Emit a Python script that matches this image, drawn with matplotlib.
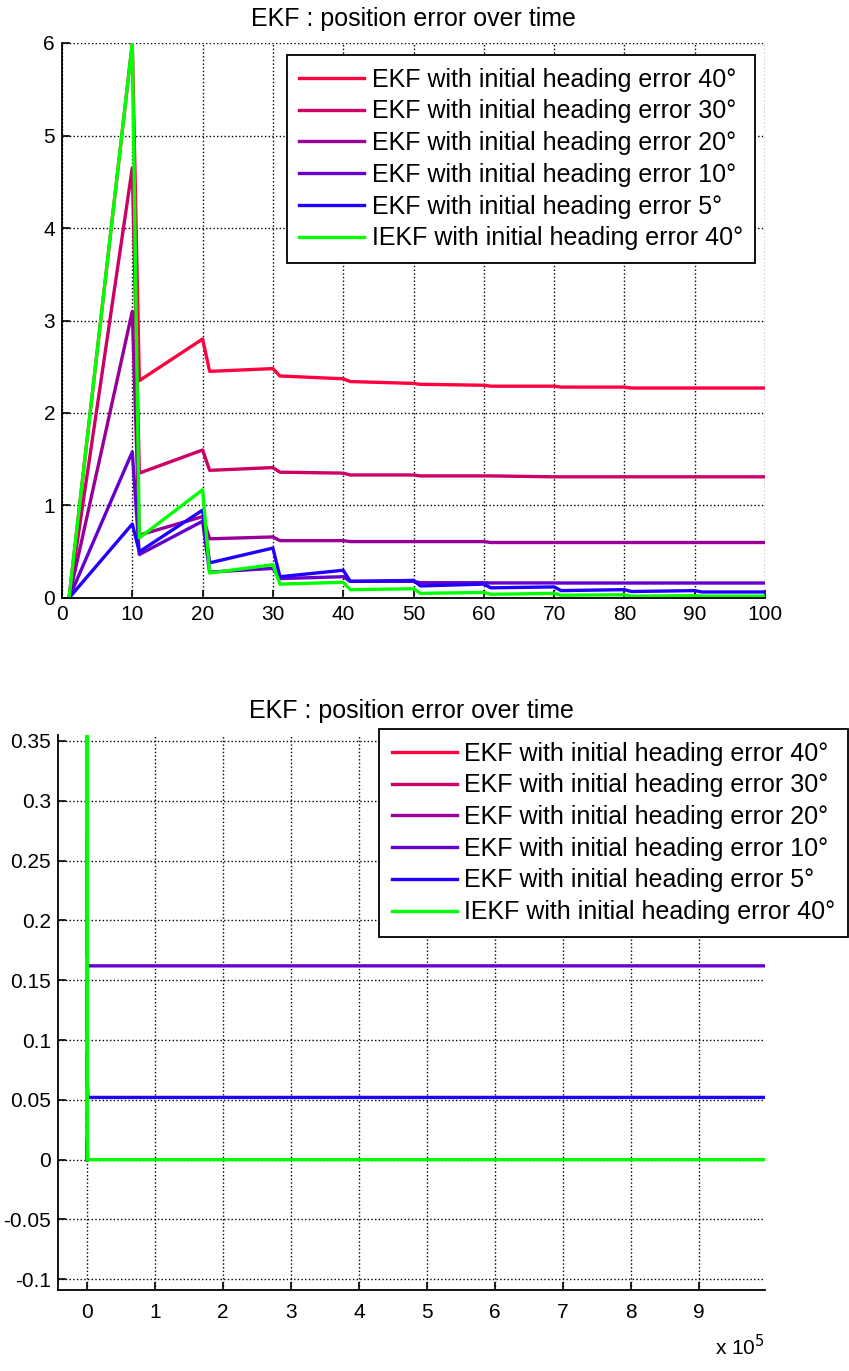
import numpy as np
import matplotlib
matplotlib.use('Agg')
import matplotlib.pyplot as plt
from matplotlib.ticker import FuncFormatter

plt.rcParams['font.family'] = ['Liberation Sans', 'DejaVu Sans']

# time axis of the short run (s)
t = [1, 10, 11, 20, 21, 30, 31, 40, 41, 50, 51, 60, 61, 70, 71, 80, 81, 90, 91, 100]

err40 = [0, 6.0, 2.35, 2.80, 2.45, 2.48, 2.40, 2.37, 2.34, 2.32, 2.31, 2.30, 2.29, 2.29, 2.28, 2.28, 2.27, 2.27, 2.27, 2.27]
err30 = [0, 4.65, 1.35, 1.60, 1.38, 1.41, 1.36, 1.35, 1.33, 1.33, 1.32, 1.32, 1.32, 1.31, 1.31, 1.31, 1.31, 1.31, 1.31, 1.31]
err20 = [0, 3.10, 0.68, 0.88, 0.64, 0.66, 0.62, 0.62, 0.61, 0.61, 0.61, 0.61, 0.60, 0.60, 0.60, 0.60, 0.60, 0.60, 0.60, 0.60]
err10 = [0, 1.58, 0.47, 0.83, 0.28, 0.32, 0.21, 0.23, 0.18, 0.18, 0.165, 0.165, 0.163, 0.163, 0.162, 0.162, 0.162, 0.162, 0.162, 0.162]
err5 = [0, 0.80, 0.50, 0.95, 0.38, 0.54, 0.23, 0.30, 0.18, 0.19, 0.13, 0.15, 0.11, 0.12, 0.08, 0.09, 0.07, 0.08, 0.065, 0.065]
iekf40 = [0, 6.0, 0.65, 1.17, 0.27, 0.36, 0.15, 0.17, 0.09, 0.10, 0.05, 0.06, 0.04, 0.05, 0.03, 0.035, 0.02, 0.025, 0.02, 0.02]

# long run tail (s)
t_tail = [1000, 1e6]
tail40 = [2.25, 2.25]
tail30 = [1.30, 1.30]
tail20 = [0.60, 0.60]
tail10 = [0.162, 0.162]
tail5 = [0.052, 0.052]
tail_iekf = [0.0, 0.0]

labels = ['EKF with initial heading error 40°',
          'EKF with initial heading error 30°',
          'EKF with initial heading error 20°',
          'EKF with initial heading error 10°',
          'EKF with initial heading error 5°',
          'IEKF with initial heading error 40°']
colors = ['#FF0040', '#CC0066', '#990099', '#6600CC', '#2200FF', '#00FF00']

series = [err40, err30, err20, err10, err5, iekf40]
tails = [tail40, tail30, tail20, tail10, tail5, tail_iekf]

fs = 18
fig = plt.figure(figsize=(8.49, 13.71), dpi=100)
ax1 = fig.add_axes([62/849, 1-598/1371, 703/849, 555/1371])
ax2 = fig.add_axes([58/849, 1-1290/1371, 707/849, 555/1371])


def style(ax):
    ax.spines['top'].set_visible(False)
    ax.spines['right'].set_visible(False)
    for s in ['left', 'bottom']:
        ax.spines[s].set_linewidth(1.3)
    ax.grid(True, linestyle=':', color='black', linewidth=1.0)
    ax.tick_params(direction='in', length=6, width=1.2, labelsize=15, pad=5)
    ax.set_title('EKF : position error over time', fontsize=fs, pad=12)


legkw = dict(borderaxespad=0, fontsize=fs, fancybox=False, edgecolor='black',
             framealpha=1, handlelength=2.6, handletextpad=0.3,
             labelspacing=0.31, borderpad=0.5)

for y, c, lab in zip(series, colors, labels):
    ax1.plot(t, y, color=c, linewidth=2.4, label=lab)
ax1.set_xlim(0, 100)
ax1.set_ylim(0, 6)
ax1.set_xticks(np.arange(0, 101, 10))
ax1.set_yticks(np.arange(0, 7, 1))
style(ax1)
leg1 = ax1.legend(loc='upper right', bbox_to_anchor=(0.986, 0.978), **legkw)
leg1.get_frame().set_linewidth(1.3)

for y, tl, c, lab in zip(series, tails, colors, labels):
    ax2.plot(list(t) + list(t_tail), list(y) + list(tl), color=c, linewidth=2.4, label=lab)
ax2.set_xlim(-0.43e5, 9.97e5)
ax2.set_ylim(-0.109, 0.355)
ax2.set_xticks(np.arange(0, 10) * 1e5)
ax2.set_xticklabels([str(i) for i in range(10)])
ax2.set_yticks(np.arange(-0.1, 0.351, 0.05))
ax2.yaxis.set_major_formatter(FuncFormatter(lambda v, p: '%g' % round(v, 2)))
style(ax2)
ax2.tick_params(axis='x', pad=9)
leg2 = ax2.legend(loc='upper right', bbox_to_anchor=(848/849, 1-729/1371),
                  bbox_transform=fig.transFigure, **legkw)
leg2.get_frame().set_linewidth(1.3)

fig.text(765/849, 1-1347/1371, 'x 10$^5$', ha='right', va='center', fontsize=15)

fig.savefig('out.png', dpi=100)
